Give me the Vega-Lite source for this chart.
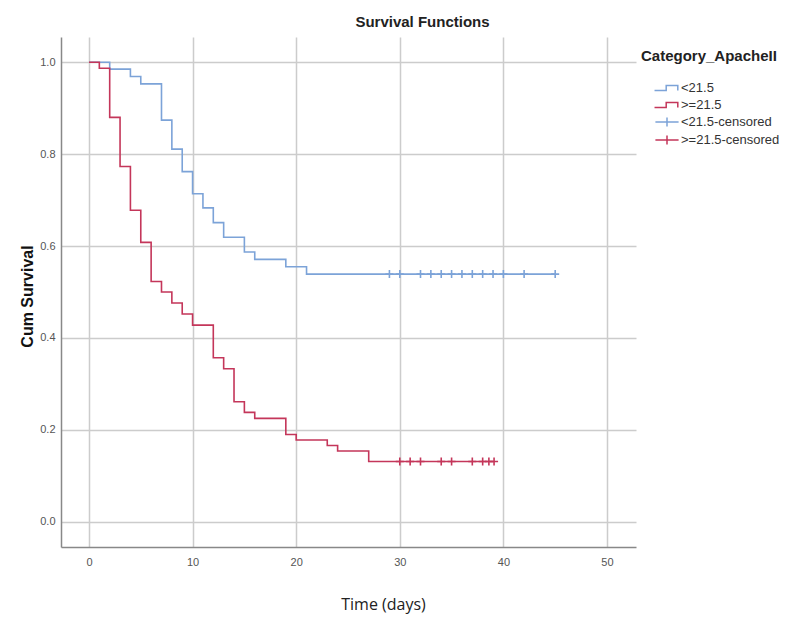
{
  "$schema": "https://vega.github.io/schema/vega-lite/v6.json",
  "autosize": "none",
  "width": 575,
  "height": 510,
  "padding": {"left": 61, "top": 37, "right": 158, "bottom": 72},
  "background": "white",
  "config": {
    "view": {"stroke": null},
    "font": "Liberation Sans"
  },
  "title": {
    "text": "Survival Functions",
    "font": "Liberation Sans",
    "fontSize": 15,
    "fontWeight": "bold",
    "color": "#222",
    "anchor": "middle",
    "dx": 74,
    "offset": -8,
    "baseline": "bottom"
  },
  "data": {
    "values": [
      {"series": "<21.5", "time": 0, "surv": 1.0},
      {"series": "<21.5", "time": 2, "surv": 0.985},
      {"series": "<21.5", "time": 4, "surv": 0.969},
      {"series": "<21.5", "time": 5, "surv": 0.953},
      {"series": "<21.5", "time": 7, "surv": 0.874},
      {"series": "<21.5", "time": 8, "surv": 0.811},
      {"series": "<21.5", "time": 9, "surv": 0.762},
      {"series": "<21.5", "time": 10, "surv": 0.714},
      {"series": "<21.5", "time": 11, "surv": 0.683},
      {"series": "<21.5", "time": 12, "surv": 0.651},
      {"series": "<21.5", "time": 13, "surv": 0.619},
      {"series": "<21.5", "time": 15, "surv": 0.587},
      {"series": "<21.5", "time": 16, "surv": 0.571},
      {"series": "<21.5", "time": 19, "surv": 0.555},
      {"series": "<21.5", "time": 21, "surv": 0.539},
      {"series": "<21.5", "time": 45, "surv": 0.539},
      {"series": ">=21.5", "time": 0, "surv": 1.0},
      {"series": ">=21.5", "time": 1, "surv": 0.987},
      {"series": ">=21.5", "time": 2, "surv": 0.880},
      {"series": ">=21.5", "time": 3, "surv": 0.773},
      {"series": ">=21.5", "time": 4, "surv": 0.678},
      {"series": ">=21.5", "time": 5, "surv": 0.608},
      {"series": ">=21.5", "time": 6, "surv": 0.523},
      {"series": ">=21.5", "time": 7, "surv": 0.500},
      {"series": ">=21.5", "time": 8, "surv": 0.476},
      {"series": ">=21.5", "time": 9, "surv": 0.452},
      {"series": ">=21.5", "time": 10, "surv": 0.428},
      {"series": ">=21.5", "time": 12, "surv": 0.357},
      {"series": ">=21.5", "time": 13, "surv": 0.333},
      {"series": ">=21.5", "time": 14, "surv": 0.261},
      {"series": ">=21.5", "time": 15, "surv": 0.238},
      {"series": ">=21.5", "time": 16, "surv": 0.225},
      {"series": ">=21.5", "time": 19, "surv": 0.190},
      {"series": ">=21.5", "time": 20, "surv": 0.178},
      {"series": ">=21.5", "time": 23, "surv": 0.166},
      {"series": ">=21.5", "time": 24, "surv": 0.154},
      {"series": ">=21.5", "time": 27, "surv": 0.131},
      {"series": ">=21.5", "time": 39.1, "surv": 0.131},
      {"series": "<21.5-censored", "time": 29, "surv": 0.539},
      {"series": "<21.5-censored", "time": 30, "surv": 0.539},
      {"series": "<21.5-censored", "time": 32, "surv": 0.539},
      {"series": "<21.5-censored", "time": 33, "surv": 0.539},
      {"series": "<21.5-censored", "time": 34, "surv": 0.539},
      {"series": "<21.5-censored", "time": 35, "surv": 0.539},
      {"series": "<21.5-censored", "time": 36, "surv": 0.539},
      {"series": "<21.5-censored", "time": 37, "surv": 0.539},
      {"series": "<21.5-censored", "time": 38, "surv": 0.539},
      {"series": "<21.5-censored", "time": 39, "surv": 0.539},
      {"series": "<21.5-censored", "time": 40, "surv": 0.539},
      {"series": "<21.5-censored", "time": 42, "surv": 0.539},
      {"series": "<21.5-censored", "time": 45, "surv": 0.539},
      {"series": ">=21.5-censored", "time": 30, "surv": 0.131},
      {"series": ">=21.5-censored", "time": 31, "surv": 0.131},
      {"series": ">=21.5-censored", "time": 32, "surv": 0.131},
      {"series": ">=21.5-censored", "time": 34, "surv": 0.131},
      {"series": ">=21.5-censored", "time": 35, "surv": 0.131},
      {"series": ">=21.5-censored", "time": 37, "surv": 0.131},
      {"series": ">=21.5-censored", "time": 38, "surv": 0.131},
      {"series": ">=21.5-censored", "time": 38.6, "surv": 0.131},
      {"series": ">=21.5-censored", "time": 39.1, "surv": 0.131}
    ]
  },
  "encoding": {
    "x": {
      "field": "time",
      "type": "quantitative",
      "scale": {"domain": [-2.7, 52.8], "nice": false, "zero": false},
      "axis": {
        "title": "Time (days)",
        "values": [0, 10, 20, 30, 40, 50],
        "format": "d",
        "ticks": false,
        "labelPadding": 9,
        "labelFont": "Liberation Sans",
        "labelFontSize": 11,
        "labelColor": "#555",
        "domainColor": "#888",
        "domainWidth": 1.5,
        "gridColor": "#cccccc",
        "gridWidth": 1.5,
        "titleFont": "Open Sans",
        "titleFontSize": 16,
        "titleFontWeight": "normal",
        "titleColor": "#222",
        "titleX": 322,
        "titleY": 57,
        "titleAnchor": null,
        "titleAlign": "center",
        "titleBaseline": "middle"
      }
    },
    "y": {
      "field": "surv",
      "type": "quantitative",
      "scale": {"domain": [-0.055, 1.055], "nice": false, "zero": false},
      "axis": {
        "title": "Cum Survival",
        "values": [0, 0.2, 0.4, 0.6, 0.8, 1.0],
        "format": ".1f",
        "ticks": false,
        "labelPadding": 6,
        "labelFont": "Liberation Sans",
        "labelFontSize": 11,
        "labelColor": "#555",
        "domainColor": "#888",
        "domainWidth": 1.5,
        "gridColor": "#cccccc",
        "gridWidth": 1.5,
        "titleFont": "Liberation Sans",
        "titleFontSize": 16,
        "titleFontWeight": "bold",
        "titleColor": "#111",
        "titleAngle": -90,
        "titleX": -34,
        "titleY": 259,
        "titleAnchor": null,
        "titleAlign": "center",
        "titleBaseline": "middle"
      }
    },
    "color": {
      "field": "series",
      "type": "nominal",
      "scale": {
        "domain": ["<21.5", ">=21.5", "<21.5-censored", ">=21.5-censored"],
        "range": ["#7ca3d8", "#c4365a", "#7ca3d8", "#c4365a"]
      },
      "legend": {
        "title": "Category_ApacheII",
        "orient": "none",
        "legendX": 580,
        "legendY": 12,
        "titleFont": "Liberation Sans",
        "titleFontSize": 15,
        "titleFontWeight": "bold",
        "titleColor": "#222",
        "titlePadding": 15,
        "labelFont": "Liberation Sans",
        "labelFontSize": 13,
        "labelColor": "#333",
        "rowPadding": 1,
        "symbolSize": 256,
        "symbolOffset": 17,
        "symbolStrokeWidth": 1.5,
        "labelOffset": 5,
        "offset": 0,
        "encode": {
          "symbols": {
            "update": {
              "shape": {"signal": "indexof(datum.label, 'censored') > 0 ? 'M-1.45,0H1.45M0,-0.56V0.56' : 'M-1.56,0.3H-0.1V-0.3H1.35V0.3'"},
              "fill": {"value": "transparent"},
              "strokeWidth": {"value": 1.5}
            }
          }
        }
      }
    }
  },
  "layer": [
    {
      "transform": [{"filter": "indexof(datum.series, 'censored') < 0"}],
      "mark": {"type": "line", "interpolate": "step-after", "strokeWidth": 1.6},
      "encoding": {"detail": {"field": "series"}}
    },
    {
      "transform": [{"filter": "indexof(datum.series, 'censored') > 0"}],
      "mark": {"type": "point", "shape": "M-1,0H1M0,-1V1", "size": 64, "filled": false, "strokeWidth": 1.6, "opacity": 1}
    }
  ]
}
